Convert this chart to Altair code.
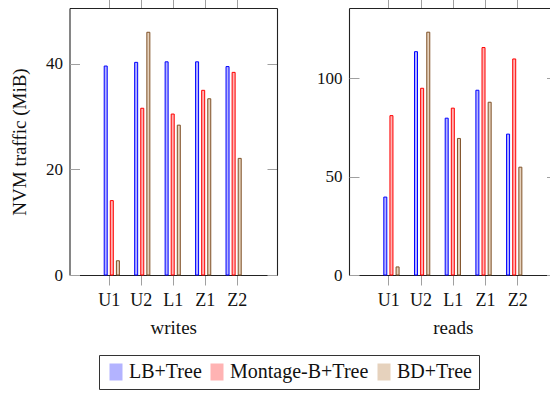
import json
import altair as alt
import pandas as pd

categories = ["U1", "U2", "L1", "Z1", "Z2"]
series = ["LB+Tree", "Montage-B+Tree", "BD+Tree"]
writes_lb = [39.6, 40.3, 40.4, 40.4, 39.5]
writes_montage = [14.1, 31.6, 30.5, 35.0, 38.4]
writes_bd = [2.7, 46.0, 28.4, 33.4, 22.1]
reads_lb = [39.6, 113.5, 79.7, 93.9, 71.6]
reads_montage = [81.0, 94.9, 84.8, 115.6, 109.8]
reads_bd = [4.1, 123.4, 69.4, 87.8, 54.8]

fill_colors = ["#b3b3ff", "#ffb3b3", "#e6d2bd"]
stroke_colors = ["#0000ff", "#ff0000", "#7f5127"]

FONT = "Liberation Serif"
FRAME = "#222222"
TICK = "#a0a0a0"
W, H = 550, 394


def frame(vals):
    rows = []
    for si, (s, arr) in enumerate(zip(series, vals)):
        for ci, (c, v) in enumerate(zip(categories, arr)):
            rows.append({"cat": c, "series": s, "value": v,
                         "pos": ci + (si - 1) * 0.2})
    return pd.DataFrame(rows)


df_w = frame([writes_lb, writes_montage, writes_bd])
df_r = frame([reads_lb, reads_montage, reads_bd])

label_expr = json.dumps(categories) + "[datum.value]"


def bars(df, xs, ys):
    return alt.Chart(df).mark_bar(size=3, strokeWidth=1).encode(
        x=alt.X("pos:Q", scale=xs, axis=None),
        y=alt.Y("value:Q", scale=ys, axis=None),
        fill=alt.Fill("series:N", sort=series,
                      scale=alt.Scale(domain=series, range=fill_colors),
                      legend=alt.Legend(
                          title=None, orient="none", legendX=99, legendY=355,
                          direction="horizontal",
                          symbolType="M-0.765,-1H0.765V1H-0.765Z",
                          symbolSize=289, symbolStrokeWidth=0,
                          symbolOpacity=1,
                          labelFont=FONT, labelFontSize=20, labelColor="#111",
                          labelOffset=3, columnPadding=5,
                          padding=7, strokeColor="#333", fillColor="white",
                          labelLimit=300)),
        stroke=alt.Stroke("series:N", sort=series,
                          scale=alt.Scale(domain=series, range=stroke_colors),
                          legend=None),
    )


def ylayer(df, ys, axis):
    return alt.Chart(df).mark_point(opacity=0).encode(
        y=alt.Y("value:Q", scale=ys, axis=axis))


def xlayer(df, xs, axis):
    return alt.Chart(df).mark_point(opacity=0).encode(
        x=alt.X("pos:Q", scale=xs, axis=axis))


def panel(df, xdom, xrange, ydom, yticks, title, ytitle, right_edge):
    xs = alt.Scale(domain=xdom, range=xrange, nice=False, zero=False)
    ys = alt.Scale(domain=ydom, range=[275, 8], nice=False, zero=False)
    left = xrange[0]
    layers = [bars(df, xs, ys)]
    # left axis with labels
    ax = dict(orient="left", offset=-left, values=yticks, ticks=False,
              tickSize=0, labelPadding=7, labelFont=FONT, labelFontSize=17,
              labelColor="#111", domain=True, domainColor=FRAME,
              domainWidth=1.1, grid=False)
    if ytitle:
        ax.update(title=ytitle, titleFont=FONT, titleFontSize=19,
                  titleFontWeight="normal", titleColor="#111", titlePadding=16)
    else:
        ax.update(title=None)
    layers.append(ylayer(df, ys, alt.Axis(**ax)))
    # inside ticks on left edge
    layers.append(ylayer(df, ys, alt.Axis(
        orient="right", offset=-(W - left), values=yticks, labels=False,
        domain=False, ticks=True, tickSize=10, tickColor=TICK, grid=False,
        title=None)))
    # right edge with inside ticks
    layers.append(ylayer(df, ys, alt.Axis(
        orient="left", offset=-right_edge, values=yticks, labels=False,
        domain=True, domainColor=FRAME, domainWidth=1.1, ticks=True,
        tickSize=10, tickColor=TICK, grid=False, title=None)))
    # bottom axis
    layers.append(xlayer(df, xs, alt.Axis(
        orient="bottom", offset=-(H - 275), values=[0, 1, 2, 3, 4],
        labelExpr=label_expr, tickSize=10, tickColor=TICK, labelPadding=6,
        labelFont=FONT, labelFontSize=18, labelColor="#111",
        domain=True, domainColor=FRAME, domainWidth=1.1, grid=False,
        title=title, titleFont=FONT, titleFontSize=19,
        titleFontWeight="normal", titleColor="#111", titlePadding=9)))
    # top axis
    layers.append(xlayer(df, xs, alt.Axis(
        orient="top", offset=-8, values=[0, 1, 2, 3, 4], labels=False,
        tickSize=10, tickColor=TICK, domain=True, domainColor=FRAME,
        domainWidth=1.1, grid=False, title=None)))
    return layers


layers = panel(df_w, [-1.225, 5.26], [69.5, 277], [0, 50.6], [0, 20, 40],
               "writes", "NVM traffic (MiB)", 277)
layers += panel(df_r, [-1.22, 5.215], [349, 556.5], [0, 135.7], [0, 50, 100],
                "reads", None, 556.5)

chart = alt.layer(*layers).resolve_scale(
    x="independent", y="independent", fill="shared", stroke="shared"
).resolve_axis(x="independent", y="independent").properties(
    width=W, height=H, autosize=alt.AutoSizeParams(type="none"),
    padding=0, background="white"
).configure_view(stroke=None)

chart.save("out.html", embed_options={"renderer": "svg", "actions": False})
